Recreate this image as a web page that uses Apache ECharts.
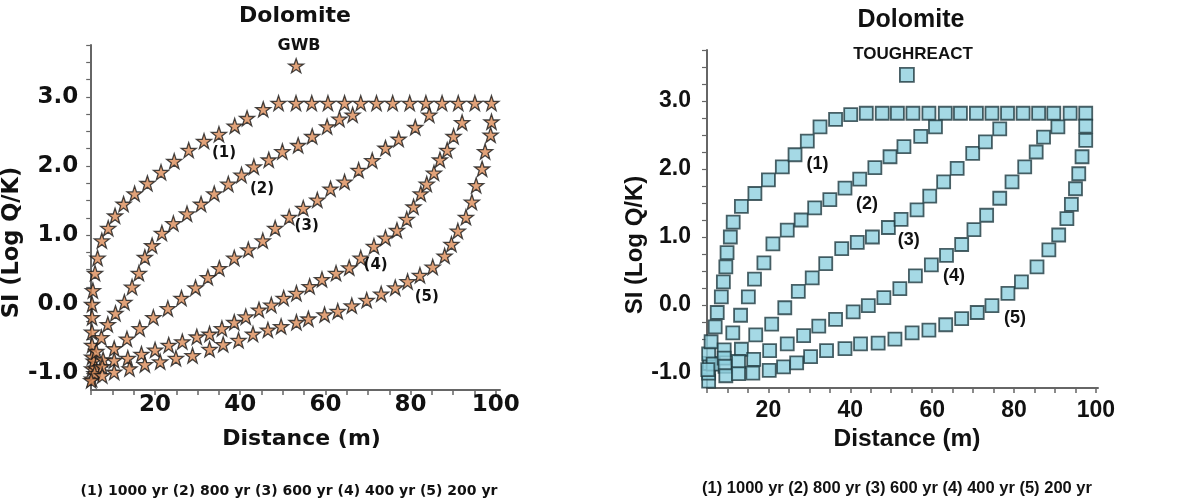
<!DOCTYPE html>
<html><head><meta charset="utf-8">
<script src="https://cdn.jsdelivr.net/npm/echarts@6/dist/echarts.min.js"></script>
<style>html,body{margin:0;padding:0;background:#fff}#c{width:1181px;height:504px}</style>
</head><body><div id="c"></div>
<script>
// ---- Data (x = distance in m, y = SI log Q/K) ----
const xLabelValues = [20, 40, 60, 80, 100];
const yLabelValues = [-1, 0, 1, 2, 3];
const seriesNames = ['(1) 1000 yr', '(2) 800 yr', '(3) 600 yr', '(4) 400 yr', '(5) 200 yr'];
const curveTags = ['(1)', '(2)', '(3)', '(4)', '(5)'];

const gwb1 = [[5.2,-1.08],[5.2,-0.93],[5.2,-0.76],[5.2,-0.59],[5.2,-0.40],[5.2,-0.19],[5.2,0.0],[5.4,0.2],[5.9,0.45],[6.5,0.67],[7.5,0.92],[9.0,1.10],[10.6,1.28],[12.6,1.45],[15.2,1.60],[18.2,1.75],[21.4,1.91],[24.5,2.07],[27.9,2.23],[31.5,2.36],[35.0,2.46],[38.7,2.58],[41.6,2.69],[45.4,2.82],[49.0,2.91],[53.1,2.91],[56.8,2.91],[60.6,2.91],[64.5,2.91],[68.3,2.91],[72.0,2.91],[75.8,2.91],[79.8,2.91],[83.6,2.91],[87.4,2.91],[91.2,2.91],[95.1,2.91],[99.0,2.91]];
const gwb2 = [[5.6,-0.82],[6.2,-0.68],[7.4,-0.48],[8.9,-0.29],[10.7,-0.13],[12.8,0.03],[14.6,0.25],[16.2,0.45],[17.6,0.68],[19.3,0.85],[21.6,1.03],[24.3,1.17],[27.5,1.31],[30.8,1.45],[33.9,1.60],[37.2,1.74],[40.3,1.87],[43.2,1.99],[46.7,2.09],[49.9,2.21],[53.6,2.30],[56.9,2.43],[60.4,2.57],[63.3,2.68],[66.4,2.74]];
const gwb3 = [[6.0,-0.92],[7.8,-0.80],[10.4,-0.64],[13.4,-0.50],[16.4,-0.35],[19.6,-0.19],[23.0,-0.06],[26.2,0.09],[29.5,0.24],[32.4,0.39],[35.1,0.52],[38.6,0.67],[41.9,0.79],[45.3,0.92],[48.2,1.10],[51.5,1.26],[54.8,1.39],[58.1,1.51],[61.2,1.67],[64.5,1.77],[67.8,1.94],[71.0,2.08],[74.1,2.26],[77.2,2.39],[81.1,2.56],[84.4,2.74]];
const gwb4 = [[5.8,-1.0],[7.6,-0.90],[10.4,-0.81],[13.6,-0.78],[16.8,-0.72],[20.0,-0.66],[23.2,-0.59],[26.4,-0.54],[29.8,-0.47],[32.8,-0.43],[35.7,-0.35],[38.6,-0.26],[41.3,-0.18],[44.4,-0.08],[47.3,-0.01],[50.2,0.09],[53.2,0.16],[56.3,0.26],[59.2,0.36],[62.5,0.45],[65.6,0.53],[68.3,0.67],[71.4,0.84],[74.1,0.96],[76.8,1.07],[79.1,1.23],[80.7,1.41],[82.4,1.60],[83.8,1.74],[85.5,1.90],[86.9,2.09],[88.6,2.23],[90.1,2.43],[92.1,2.63]];
const gwb5 = [[5.0,-1.1],[7.6,-1.03],[10.4,-0.98],[14.0,-0.93],[17.6,-0.87],[21.2,-0.83],[24.9,-0.78],[28.8,-0.74],[32.8,-0.65],[36.0,-0.58],[39.6,-0.52],[43.0,-0.43],[46.5,-0.37],[49.6,-0.32],[53.2,-0.26],[56.0,-0.21],[59.8,-0.15],[62.9,-0.10],[66.2,-0.02],[69.7,0.06],[73.1,0.15],[76.4,0.24],[79.3,0.33],[82.2,0.42],[85.2,0.54],[88.0,0.70],[89.6,0.87],[91.1,1.06],[93.0,1.26],[94.4,1.48],[95.4,1.72],[96.8,1.96],[97.5,2.21],[98.8,2.45],[99.0,2.64]];

const tr1 = [[5.4,-1.12],[5.4,-1.0],[5.6,-0.86],[5.4,-0.72],[6.0,-0.54],[7.0,-0.32],[7.5,-0.11],[8.5,0.12],[9.0,0.34],[9.6,0.56],[9.9,0.77],[10.7,1.0],[11.4,1.22],[13.4,1.45],[16.7,1.64],[20.0,1.84],[23.4,2.03],[26.5,2.21],[29.5,2.41],[32.6,2.62],[36.4,2.73],[40.1,2.80],[43.9,2.82],[47.8,2.82],[51.5,2.82],[55.3,2.82],[59.2,2.82],[63.2,2.82],[66.9,2.82],[70.8,2.82],[74.6,2.82],[78.4,2.82],[82.2,2.82],[86.0,2.82],[89.7,2.82],[93.7,2.82],[97.5,2.82]];
const tr2 = [[6.5,-0.87],[9.2,-0.66],[11.3,-0.41],[13.2,-0.15],[15.1,0.12],[16.6,0.38],[18.9,0.62],[21.1,0.90],[24.6,1.10],[28.0,1.25],[31.3,1.43],[35.0,1.55],[38.7,1.72],[42.3,1.85],[46.0,2.02],[49.7,2.18],[53.1,2.33],[57.2,2.48],[60.8,2.62]];
const tr3 = [[9.2,-0.78],[13.4,-0.65],[16.9,-0.44],[20.8,-0.28],[24.0,-0.04],[27.3,0.20],[30.7,0.40],[34.0,0.61],[37.9,0.83],[41.7,0.92],[45.4,1.00],[49.3,1.14],[52.4,1.26],[56.3,1.40],[59.4,1.60],[62.8,1.81],[66.1,2.01],[69.9,2.23],[73.0,2.40],[76.5,2.59]];
const tr4 = [[9.4,-0.90],[12.7,-0.83],[16.4,-0.80],[20.3,-0.67],[24.6,-0.57],[28.6,-0.45],[32.3,-0.31],[36.4,-0.21],[40.7,-0.10],[44.4,-0.01],[48.2,0.11],[52.1,0.24],[55.9,0.43],[59.8,0.59],[63.5,0.73],[67.2,0.89],[70.2,1.11],[73.3,1.32],[76.5,1.57],[79.5,1.81],[82.6,2.03],[85.4,2.25],[87.2,2.47],[90.7,2.62]];
const tr5 = [[5.2,-0.95],[9.6,-1.04],[12.7,-1.01],[16.2,-1.0],[20.2,-0.96],[23.7,-0.91],[26.9,-0.85],[30.3,-0.76],[34.2,-0.67],[38.7,-0.64],[42.5,-0.57],[46.8,-0.56],[50.9,-0.50],[55.1,-0.41],[59.2,-0.37],[63.3,-0.29],[67.2,-0.20],[71.0,-0.11],[74.6,-0.01],[78.5,0.17],[81.8,0.34],[85.6,0.56],[88.5,0.81],[90.9,1.03],[92.9,1.27],[94.0,1.48],[95.0,1.71],[95.8,1.93],[96.6,2.18],[97.5,2.42],[97.5,2.63]];

// curve tag anchor positions (data coords) for the labels (1)...(5)
const gwbTagPos = [[36.2,2.18],[45.1,1.66],[55.6,1.13],[71.8,0.57],[83.8,0.11]];
const trTagPos = [[32.0,2.08],[44.1,1.49],[54.3,0.96],[65.3,0.43],[80.2,-0.19]];

const gwbData = [gwb1, gwb2, gwb3, gwb4, gwb5];
const trData = [tr1, tr2, tr3, tr4, tr5];

// ---- Styling ----
const FONT_L = '"DejaVu Sans", Verdana, sans-serif';
const FONT_R = '"Liberation Sans", Arial, sans-serif';
const starPath = 'path://M50,2 L61.8,36.4 L98,36.4 L68.8,57.6 L79.6,92 L50,71 L20.4,92 L31.2,57.6 L2,36.4 L38.2,36.4 Z';
const starStyle = {color: '#D98B57', borderColor: '#1a1a1a', borderWidth: 1.3};
const sqStyle = {color: '#8FD0DF', borderColor: '#1f3a40', borderWidth: 1.8};

const xTicks = []; for (let v = 5; v <= 100; v += 5) xTicks.push(v);
const yTicks = []; for (let v = -1; v <= 3.75; v += 0.25) yTicks.push(+v.toFixed(2));

function xAxisCfg(gi, o) {
  return {
    type: 'value', gridIndex: gi, min: 5, max: o.max,
    name: 'Distance (m)', nameLocation: 'middle', nameGap: o.nameGap,
    nameTextStyle: {fontFamily: o.font, fontWeight: 'bold', fontSize: o.nameSize, color: '#111', padding: [0, 0, 0, o.namePadX]},
    axisLine: {onZero: false, lineStyle: {color: '#666', width: 2}},
    axisTick: {customValues: xTicks, length: 5, lineStyle: {color: '#666', width: 1.5}},
    axisLabel: {customValues: xLabelValues, margin: o.labelMargin, fontFamily: o.font, fontWeight: 'bold', fontSize: 23, color: '#111'},
    splitLine: {show: false}
  };
}
function yAxisCfg(gi, o) {
  return {
    type: 'value', gridIndex: gi, min: o.min, max: 3.75,
    name: 'SI (Log Q/K)', nameLocation: 'middle', nameGap: o.nameGap,
    nameTextStyle: {fontFamily: o.font, fontWeight: 'bold', fontSize: o.nameSize, color: '#111', padding: [0, o.namePadY, 0, 0]},
    axisLine: {show: true, onZero: false, lineStyle: {color: '#666', width: 2}},
    axisTick: {show: true, customValues: yTicks, length: 5, lineStyle: {color: '#666', width: 1.2}},
    axisLabel: {customValues: yLabelValues, margin: o.labelMargin, fontFamily: o.font, fontWeight: 'bold', fontSize: 23, color: '#111',
      formatter: v => v.toFixed(1)},
    splitLine: {show: false}
  };
}

const series = [];
gwbData.forEach((d, i) => {
  series.push({
    name: 'GWB', id: 'gwb' + i, type: 'scatter', xAxisIndex: 0, yAxisIndex: 0,
    symbol: starPath, symbolSize: 15, itemStyle: starStyle, data: d,
    markPoint: {symbol: 'circle', symbolSize: 1, itemStyle: {color: 'rgba(0,0,0,0)'},
      label: {show: true, position: 'inside', formatter: curveTags[i], fontFamily: FONT_L, fontWeight: 'bold', fontSize: 15, color: '#111'},
      data: [{coord: gwbTagPos[i]}]}
  });
});
trData.forEach((d, i) => {
  series.push({
    name: 'TOUGHREACT', id: 'tr' + i, type: 'scatter', xAxisIndex: 1, yAxisIndex: 1,
    symbol: 'rect', symbolSize: 13, itemStyle: sqStyle, data: d,
    markPoint: {symbol: 'circle', symbolSize: 1, itemStyle: {color: 'rgba(0,0,0,0)'},
      label: {show: true, position: 'inside', formatter: curveTags[i], fontFamily: FONT_R, fontWeight: 'bold', fontSize: 18, color: '#111'},
      data: [{coord: trTagPos[i]}]}
  });
});

const note = seriesNames.join(' ');
const chart = echarts.init(document.getElementById('c'), null, {renderer: 'canvas'});
chart.setOption({
  animation: false,
  backgroundColor: '#fff',
  title: [
    {text: 'Dolomite', left: 290, top: 0, textAlign: 'center',
      textStyle: {fontFamily: FONT_L, fontWeight: 'bold', fontSize: 22, color: '#111'}},
    {text: 'GWB', left: 294, top: 33, textAlign: 'center',
      textStyle: {fontFamily: FONT_L, fontWeight: 'bold', fontSize: 16, color: '#111'}},
    {text: 'Dolomite', left: 906, top: 3, textAlign: 'center',
      textStyle: {fontFamily: FONT_R, fontWeight: 'bold', fontSize: 25, color: '#111'}},
    {text: 'TOUGHREACT', left: 908, top: 41, textAlign: 'center',
      textStyle: {fontFamily: FONT_R, fontWeight: 'bold', fontSize: 17, color: '#111'}},
    {text: note, left: 284, top: 479, textAlign: 'center',
      textStyle: {fontFamily: FONT_L, fontWeight: 'bold', fontSize: 14, color: '#111'}},
    {text: note, left: 892, top: 475, textAlign: 'center',
      textStyle: {fontFamily: FONT_R, fontWeight: 'bold', fontSize: 16.5, color: '#111'}}
  ],
  legend: [
    {data: [{name: 'GWB', icon: starPath}], left: 288, top: 58, itemWidth: 15, itemHeight: 15,
      formatter: () => '', selectedMode: false, itemStyle: starStyle, padding: 0},
    {data: [{name: 'TOUGHREACT', icon: 'rect'}], left: 899, top: 67, itemWidth: 14, itemHeight: 14,
      formatter: () => '', selectedMode: false, itemStyle: sqStyle, padding: 0}
  ],
  grid: [
    {left: 86, top: 45, width: 414, height: 345},
    {left: 707, top: 50, width: 391, height: 338}
  ],
  xAxis: [
    xAxisCfg(0, {max: 101, font: FONT_L, nameSize: 22, nameGap: 38, namePadX: 12, labelMargin: 4}),
    xAxisCfg(1, {max: 100.5, font: FONT_R, nameSize: 24.5, nameGap: 38, namePadX: 9, labelMargin: 11})
  ],
  yAxis: [
    yAxisCfg(0, {min: -1.24, font: FONT_L, nameSize: 22.5, nameGap: 60, namePadY: 50, labelMargin: 13}),
    yAxisCfg(1, {min: -1.22, font: FONT_R, nameSize: 24, nameGap: 53, namePadY: 52, labelMargin: 16})
  ],
  series: series
});
</script>
</body></html>
